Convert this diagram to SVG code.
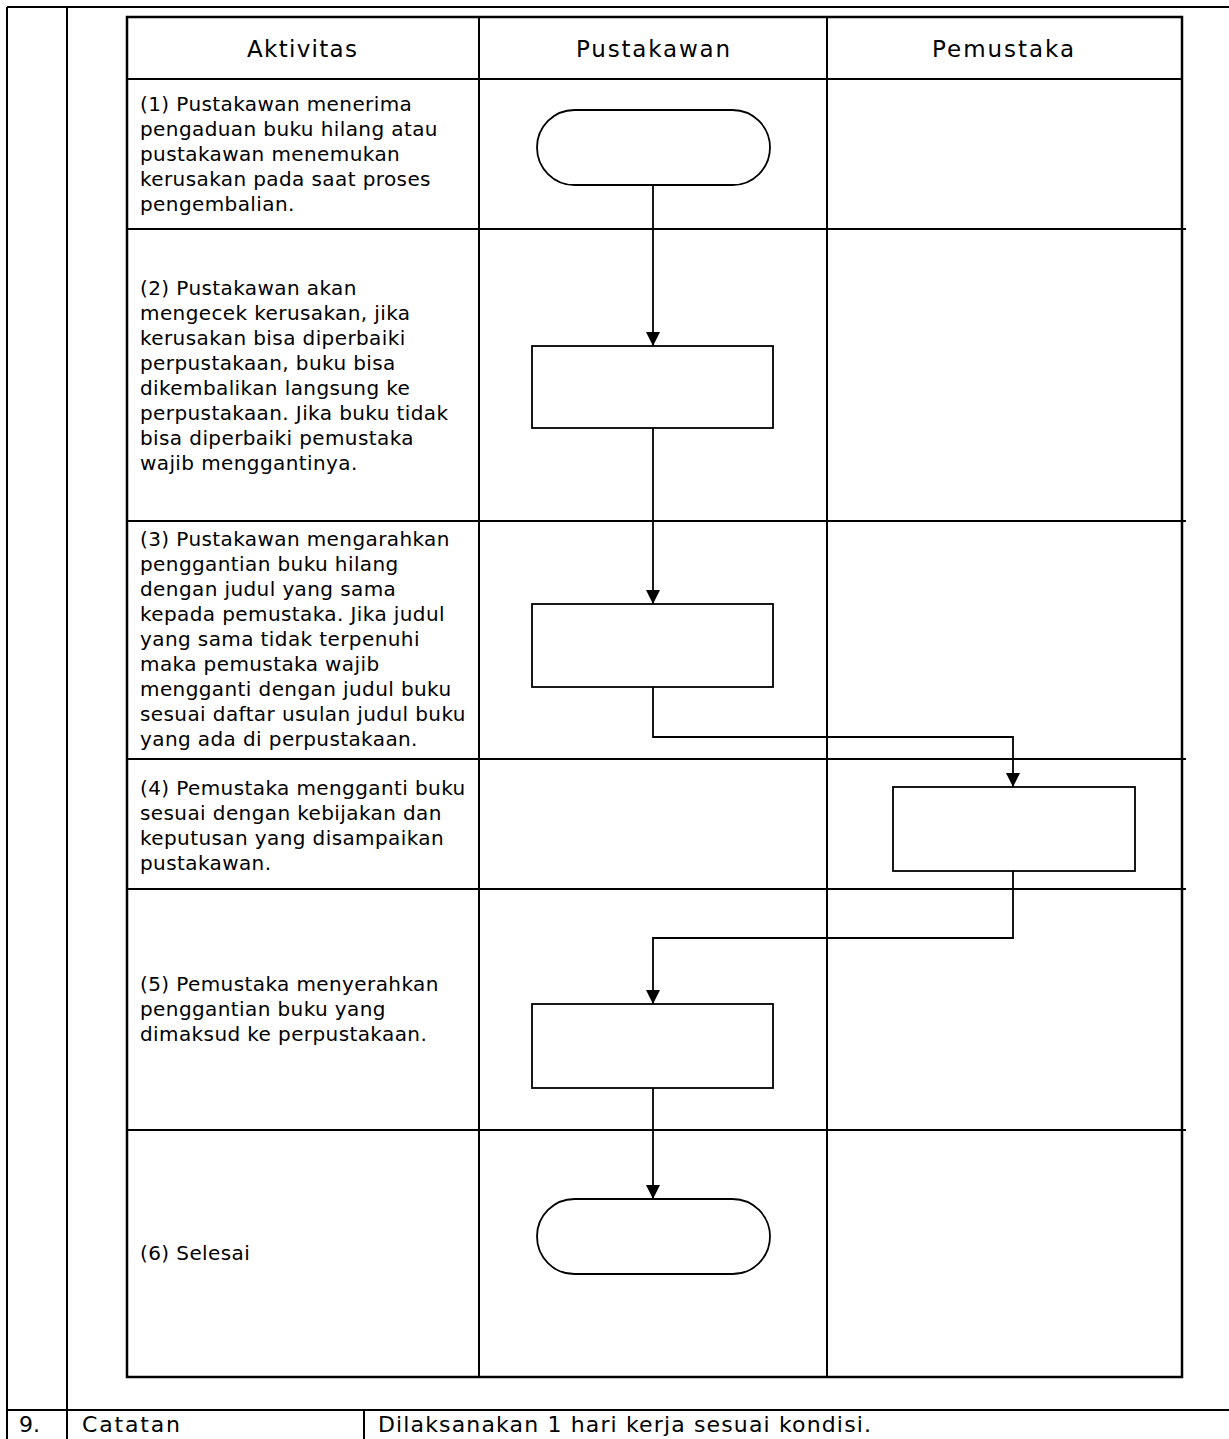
<svg xmlns="http://www.w3.org/2000/svg" width="1229" height="1439" viewBox="0 0 1229 1439">
<style>
.frame{stroke:#000;stroke-width:2;fill:none}
.grid{stroke:#000;stroke-width:2;fill:none}
.border{stroke:#000;stroke-width:2.5;fill:none}
.shape{stroke:#000;stroke-width:1.8;fill:#fff}
.conn{stroke:#000;stroke-width:1.8;fill:none}
.body{font-family:"DejaVu Sans",Verdana,sans-serif;font-size:20px;letter-spacing:0.4px;fill:#000}
.head{font-family:"DejaVu Sans",Verdana,sans-serif;font-size:23px;fill:#000;text-anchor:middle}
.foot{font-family:"DejaVu Sans",Verdana,sans-serif;font-size:22px;fill:#000}
</style>
<defs>
<marker id="arr" viewBox="0 0 10 10" refX="10" refY="5" markerWidth="8" markerHeight="8" markerUnits="strokeWidth" orient="auto">
<path d="M0,0 L10,5 L0,10 z" fill="#000"/>
</marker>
</defs>
<rect width="1229" height="1439" fill="#fff"/>
<g id="frame">
<line class="frame" x1="7" y1="7" x2="1229" y2="7"/>
<line class="frame" x1="7" y1="7" x2="7" y2="1439"/>
<line class="frame" x1="67" y1="7" x2="67" y2="1439"/>
<line class="frame" x1="7" y1="1410" x2="1229" y2="1410"/>
<line class="frame" x1="364" y1="1410" x2="364" y2="1439"/>
<text class="foot" x="19" y="1432">9.</text>
<text class="foot" x="82" y="1432" textLength="98" lengthAdjust="spacing">Catatan</text>
<text class="foot" x="378" y="1432" textLength="493" lengthAdjust="spacing">Dilaksanakan 1 hari kerja sesuai kondisi.</text>
</g>
<g id="table">
<rect class="border" x="127" y="17" width="1055" height="1360"/>
<line class="grid" x1="479" y1="17" x2="479" y2="1377"/>
<line class="grid" x1="827" y1="17" x2="827" y2="1377"/>
<line class="grid" x1="127" y1="79" x2="1182" y2="79"/>
<line class="grid" x1="127" y1="229" x2="1186" y2="229"/>
<line class="grid" x1="127" y1="521" x2="1186" y2="521"/>
<line class="grid" x1="127" y1="759" x2="1186" y2="759"/>
<line class="grid" x1="127" y1="889" x2="1186" y2="889"/>
<line class="grid" x1="127" y1="1130" x2="1186" y2="1130"/>
<text class="head" x="302" y="57" textLength="110" lengthAdjust="spacing">Aktivitas</text>
<text class="head" x="653" y="57" textLength="154" lengthAdjust="spacing">Pustakawan</text>
<text class="head" x="1003" y="57" textLength="142" lengthAdjust="spacing">Pemustaka</text>
</g>
<g id="activity-text">
<text class="body" x="140" y="111">
<tspan x="140" y="111">(1) Pustakawan menerima</tspan>
<tspan x="140" y="136">pengaduan buku hilang atau</tspan>
<tspan x="140" y="161">pustakawan menemukan</tspan>
<tspan x="140" y="186">kerusakan pada saat proses</tspan>
<tspan x="140" y="211">pengembalian.</tspan>
</text>
<text class="body" x="140" y="295">
<tspan x="140" y="295">(2) Pustakawan akan</tspan>
<tspan x="140" y="320">mengecek kerusakan, jika</tspan>
<tspan x="140" y="345">kerusakan bisa diperbaiki</tspan>
<tspan x="140" y="370">perpustakaan, buku bisa</tspan>
<tspan x="140" y="395">dikembalikan langsung ke</tspan>
<tspan x="140" y="420">perpustakaan. Jika buku tidak</tspan>
<tspan x="140" y="445">bisa diperbaiki pemustaka</tspan>
<tspan x="140" y="470">wajib menggantinya.</tspan>
</text>
<text class="body" x="140" y="546">
<tspan x="140" y="546">(3) Pustakawan mengarahkan</tspan>
<tspan x="140" y="571">penggantian buku hilang</tspan>
<tspan x="140" y="596">dengan judul yang sama</tspan>
<tspan x="140" y="621">kepada pemustaka. Jika judul</tspan>
<tspan x="140" y="646">yang sama tidak  terpenuhi</tspan>
<tspan x="140" y="671">maka pemustaka wajib</tspan>
<tspan x="140" y="696">mengganti dengan judul buku</tspan>
<tspan x="140" y="721">sesuai daftar usulan judul buku</tspan>
<tspan x="140" y="746">yang ada di perpustakaan.</tspan>
</text>
<text class="body" x="140" y="795">
<tspan x="140" y="795">(4) Pemustaka mengganti buku</tspan>
<tspan x="140" y="820">sesuai dengan kebijakan dan</tspan>
<tspan x="140" y="845">keputusan yang disampaikan</tspan>
<tspan x="140" y="870">pustakawan.</tspan>
</text>
<text class="body" x="140" y="991">
<tspan x="140" y="991">(5) Pemustaka menyerahkan</tspan>
<tspan x="140" y="1016">penggantian buku yang</tspan>
<tspan x="140" y="1041">dimaksud ke perpustakaan.</tspan>
</text>
<text class="body" x="140" y="1260">(6) Selesai</text>
</g>
<g id="connectors">
<line class="conn" x1="653" y1="185" x2="653" y2="346" marker-end="url(#arr)"/>
<line class="conn" x1="653" y1="428" x2="653" y2="604" marker-end="url(#arr)"/>
<polyline class="conn" points="653,687 653,737 1013,737 1013,787" marker-end="url(#arr)"/>
<polyline class="conn" points="1013,871 1013,938 653,938 653,1004" marker-end="url(#arr)"/>
<line class="conn" x1="653" y1="1088" x2="653" y2="1199" marker-end="url(#arr)"/>
</g>
<g id="node-start"><rect class="shape" x="537" y="110" width="233" height="75" rx="37.5" ry="37.5"/></g>
<g id="node-2"><rect class="shape" x="532" y="346" width="241" height="82"/></g>
<g id="node-3"><rect class="shape" x="532" y="604" width="241" height="83"/></g>
<g id="node-4"><rect class="shape" x="893" y="787" width="242" height="84"/></g>
<g id="node-5"><rect class="shape" x="532" y="1004" width="241" height="84"/></g>
<g id="node-end"><rect class="shape" x="537" y="1199" width="233" height="75" rx="37.5" ry="37.5"/></g>
</svg>
